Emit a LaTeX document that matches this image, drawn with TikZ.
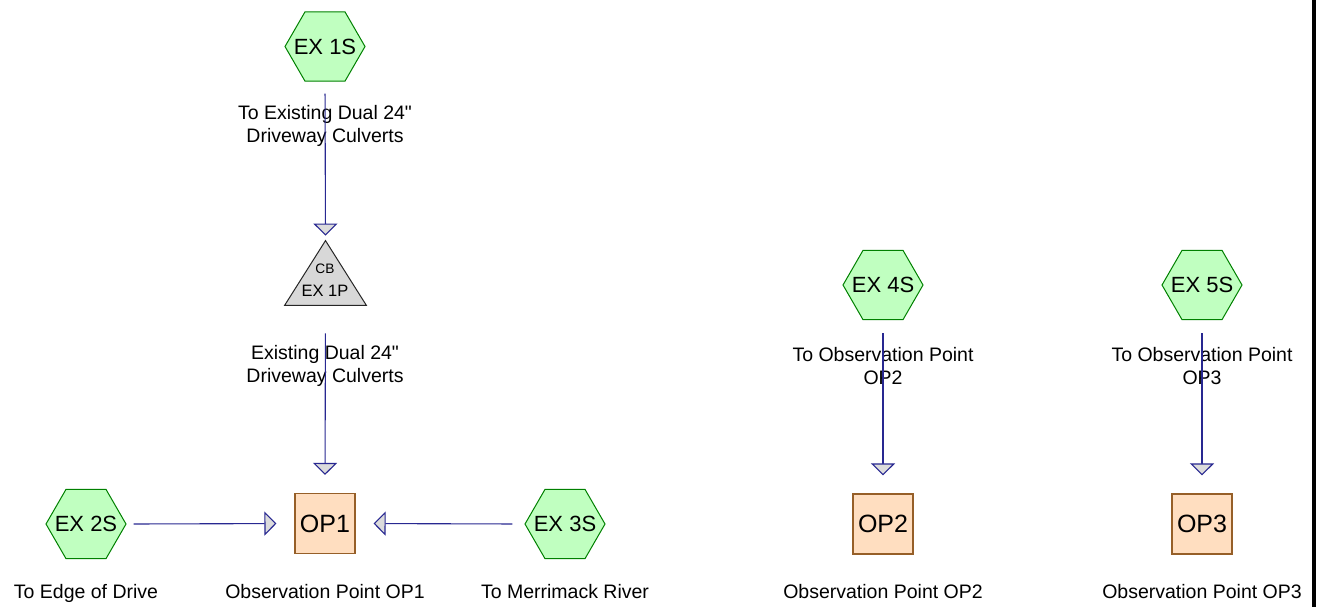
\documentclass[tikz,border=0pt]{standalone}
\usepackage{fontspec}
\setmainfont{Liberation Sans}
\usetikzlibrary{shapes.geometric,arrows.meta}
\definecolor{hexfill}{RGB}{192,255,192}
\definecolor{hexdraw}{RGB}{0,128,0}
\definecolor{opfill}{RGB}{255,222,192}
\definecolor{opdraw}{RGB}{150,95,40}
\definecolor{trifill}{RGB}{216,216,216}
\definecolor{linkc}{RGB}{40,40,145}
\definecolor{tipfill}{RGB}{220,220,220}
\newcommand{\zb}[1]{\makebox[0pt][c]{#1}}
\tikzset{
  subcat/.style={regular polygon, regular polygon sides=6, minimum size=40pt, inner sep=0pt,
    fill=hexfill, draw=hexdraw, line width=0.5pt, font=\fontsize{11}{13}\selectfont},
  opbox/.style={rectangle, minimum width=30pt, minimum height=30pt, inner sep=0pt,
    fill=opfill, draw=opdraw, line width=0.6pt, font=\fontsize{12.5}{14}\selectfont},
  ponddummy/.style={rectangle, minimum width=40.5pt, minimum height=32pt, inner sep=0pt},
  lbl/.style={align=center, inner sep=0pt, font=\fontsize{9.75}{11.5}\selectfont},
  link/.style={draw=linkc, line width=0.55pt,
    -{Triangle[length=6pt, width=12pt, fill=tipfill, line width=0.55pt]}},
}
\begin{document}
\begin{tikzpicture}[x=0.5pt, y=-0.5pt]
\useasboundingbox (0,0) rectangle (1320,607);
% right black bar
\fill[black] (1312,0) rectangle (1316,607);

% subcatchments
\node[subcat] (s1) at (325,46.5) {\zb{EX 1S}};
\node[subcat] (s2) at (86,524) {\zb{EX 2S}};
\node[subcat] (s3) at (565,524) {\zb{EX 3S}};
\node[subcat] (s4) at (883,285) {\zb{EX 4S}};
\node[subcat] (s5) at (1202,285) {\zb{EX 5S}};

% pond
\node[ponddummy] (p1) at (325.5,273) {};
\draw[fill=trifill, draw=black!85, line width=0.5pt, line join=miter]
  (p1.north) -- (p1.south east) -- (p1.south west) -- cycle;
\node[anchor=base, inner sep=0pt, font=\fontsize{6.85}{8}\selectfont] (p1a) at (325,273) {CB};
\node[anchor=base, inner sep=0pt, font=\fontsize{8.25}{10}\selectfont] (p1b) at (325,296) {EX 1P};

% observation points
\node[opbox] (o1) at (325,523.5) {OP1};
\node[opbox] (o2) at (883,524) {OP2};
\node[opbox] (o3) at (1202,524) {OP3};

% labels
\node[lbl] (l1) at (325,126) {To Existing Dual 24\textquotedbl\\Driveway Culverts};
\node[lbl] (l2) at (325,366) {Existing Dual 24\textquotedbl\\Driveway Culverts};
\node[lbl] (l4) at (883,366) {To Observation Point\\OP2};
\node[lbl] (l5) at (1202,366) {To Observation Point\\OP3};
\node[lbl, anchor=base] (l2s) at (86,598) {To Edge of Drive};
\node[lbl, anchor=base] (lo1) at (325,598) {Observation Point OP1};
\node[lbl, anchor=base] (l3s) at (565,598) {To Merrimack River};
\node[lbl, anchor=base] (lo2) at (883,598) {Observation Point OP2};
\node[lbl, anchor=base] (lo3) at (1202,598) {Observation Point OP3};

% links
\draw[link, shorten <=6pt, shorten >=2.5pt] (s1.south) -- (p1.north);
\draw[link, shorten <=14pt, shorten >=9pt] (p1.south) -- (o1.north);
\draw[link, shorten <=3.5pt, shorten >=9pt] (s2.east) -- (o1.west);
\draw[link, shorten <=6pt, shorten >=9pt] (s3.west) -- (o1.east);
\draw[link, shorten <=6.5pt, shorten >=9pt] (s4.south) -- (o2.north);
\draw[link, shorten <=6.5pt, shorten >=9pt] (s5.south) -- (o3.north);
\end{tikzpicture}
\end{document}
